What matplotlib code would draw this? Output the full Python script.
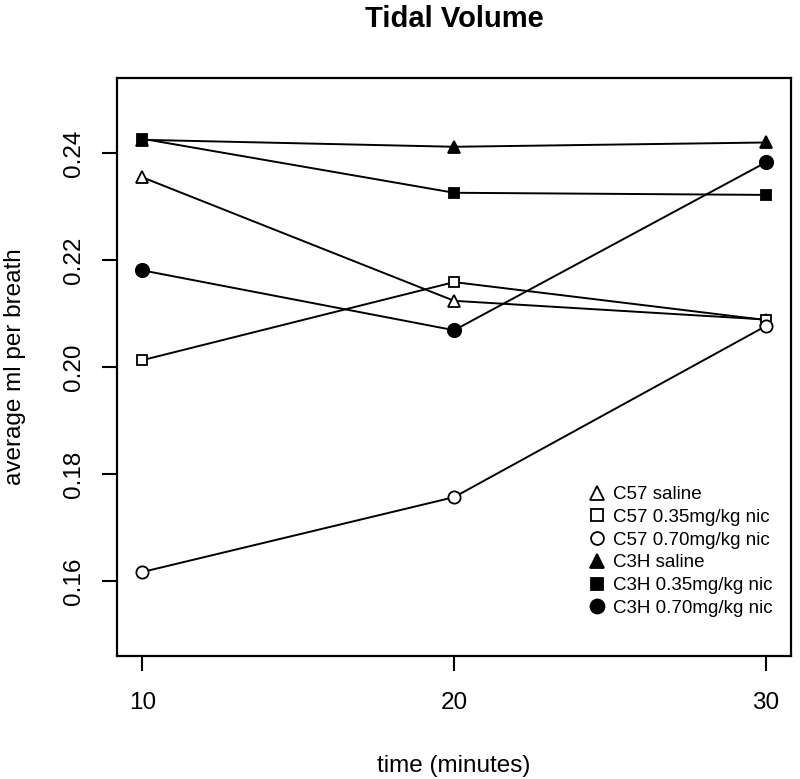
import matplotlib
matplotlib.use("Agg")
import matplotlib.pyplot as plt
from matplotlib.lines import Line2D

plt.rcParams['font.family'] = ['Liberation Sans', 'DejaVu Sans']

time = [10, 20, 30]
series_labels = ["C57 saline", "C57 0.35mg/kg nic", "C57 0.70mg/kg nic",
                 "C3H saline", "C3H 0.35mg/kg nic", "C3H 0.70mg/kg nic"]
c57_saline = [0.2355, 0.2124, 0.2089]
c57_035 = [0.2013, 0.2159, 0.2088]
c57_070 = [0.1617, 0.1757, 0.2077]
c3h_saline = [0.2425, 0.2412, 0.2420]
c3h_035 = [0.2427, 0.2326, 0.2322]
c3h_070 = [0.2181, 0.2069, 0.2383]
yticks = [0.16, 0.18, 0.20, 0.22, 0.24]
xticks = [10, 20, 30]

W, H = 800, 779
fig = plt.figure(figsize=(W / 100, H / 100), dpi=100)
left, right, top, bottom = 117.3, 791, 78.3, 656
ax = fig.add_axes([left / W, 1 - bottom / H, (right - left) / W, (bottom - top) / H])

styles = [
    (c57_saline, '^', 'white', 9.0),
    (c57_035, 's', 'white', 7.6),
    (c57_070, 'o', 'white', 8.8),
    (c3h_saline, '^', 'black', 9.0),
    (c3h_035, 's', 'black', 7.6),
    (c3h_070, 'o', 'black', 9.6),
]
for (vals, m, fc, ms), lab in zip(styles, series_labels):
    ax.plot(time, vals, color='black', lw=1.4, marker=m, markersize=ms,
            markerfacecolor=fc, markeredgecolor='black', markeredgewidth=1.3,
            label=lab, zorder=3)

ax.set_xlim(9.2, 30.8)
ax.set_ylim(0.146, 0.254)
ax.set_xticks(xticks)
ax.set_xticklabels([str(t) for t in xticks])
ax.set_yticks(yticks)
ax.set_yticklabels([f"{v:.2f}" for v in yticks], rotation=90, va='center')
for s in ax.spines.values():
    s.set_linewidth(1.6)
ax.tick_params(axis='both', direction='out', length=11, width=1.5, labelsize=17.5)
ax.tick_params(axis='x', pad=15)
ax.tick_params(axis='y', pad=12)

fig.text(454 / W, 1 - 19 / H, "Tidal Volume", ha='center', va='center',
         fontsize=21, fontweight='bold')
fig.text(454 / W, 1 - 766 / H, "time (minutes)", ha='center', va='center', fontsize=17.5)
fig.text(15 / W, 1 - 367 / H, "average ml per breath", ha='center', va='center',
         rotation=90, fontsize=17.5)

leg_handles = []
for (vals, m, fc, ms) in styles:
    leg_handles.append(Line2D([], [], linestyle='none', marker=m, markersize=ms * 1.05,
                              markerfacecolor=fc, markeredgecolor='black',
                              markeredgewidth=1.3))
ax.legend(leg_handles, series_labels, loc='upper left',
          bbox_to_anchor=(588 / W, 1 - 486 / H), bbox_transform=fig.transFigure,
          frameon=False, fontsize=13.5, handlelength=1.0, handletextpad=0.35,
          labelspacing=0.3, borderpad=0, borderaxespad=0)

fig.savefig("out.png", dpi=100)
